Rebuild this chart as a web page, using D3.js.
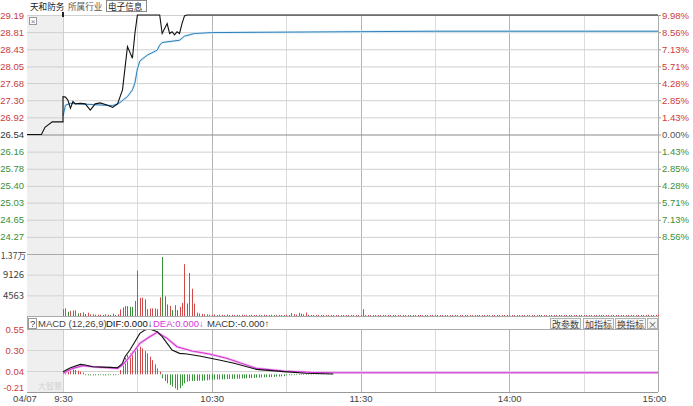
<!DOCTYPE html>
<html lang="zh">
<head>
<meta charset="UTF-8">
<title>天和防务 分时</title>
<script src="https://d3js.org/d3.v7.min.js"></script>
<style>
    html, body { margin:0; background:#fff; }
    svg text { font-family: "Liberation Sans", Arial, sans-serif; }
    .cjk { font-family: "Noto Sans CJK SC", sans-serif; }
    .axis .domain { display:none; }
</style>
</head>
<body>
<svg id="chart" width="693" height="406"></svg>
<script>
// ---- data ----
var prevClose = 26.54;
var priceTicks = [29.19, 28.81, 28.43, 28.05, 27.68, 27.30, 26.92, 26.54, 26.16, 25.78, 25.40, 25.03, 24.65, 24.27];
var pctLabels = ["9.98%", "8.56%", "7.13%", "5.71%", "4.28%", "2.85%", "1.43%", "0.00%", "1.43%", "2.85%", "4.28%", "5.71%", "7.13%", "8.56%"];
var volTicks = [13689, 9126, 4563];
var volLabels = ["1.37万", "9126", "4563"];
var macdTicks = [0.5466, 0.2933, 0.04, -0.2133];
var macdLabels = ["0.55", "0.30", "0.04", "-0.21"];
var timeTicks = ["09:30", "10:30", "11:30", "14:00", "15:00"];
var timeLabels = ["9:30", "10:30", "11:30", "14:00", "15:00"];

// call auction (grey band)
var aucTimes = ["09:15", "09:19", "09:20", "09:22", "09:25"];
var aucPrice = [26.54, 26.54, 26.70, 26.82, 26.82];

var priceTimes = ["09:30","09:31","09:32","09:33","09:34","09:35","09:37","09:39","09:41","09:43","09:45","09:48","09:50","09:52",
    "09:54","09:56","09:58","09:59","10:00","10:09","10:10","10:12","10:13","10:14","10:15","10:16","10:17","10:18","10:19","10:20","15:00"];
var priceVals = [27.38,27.37,27.30,27.12,27.27,27.22,27.23,27.22,27.08,27.22,27.24,27.19,27.14,27.22,
    27.53,28.49,28.23,28.78,29.19,29.19,28.78,29.00,28.78,28.82,28.75,28.82,28.78,29.00,29.17,29.19,29.19];

var avgTimes = ["09:30","09:31","09:33","09:50","09:52","09:53","09:56","09:58","09:59","10:00","10:01","10:04","10:08","10:09",
    "10:10","10:17","10:19","10:23","10:30","11:30","13:30","15:00"];
var avgVals = [26.95,27.19,27.23,27.18,27.22,27.25,27.38,27.53,27.68,27.99,28.17,28.30,28.41,28.52,
    28.58,28.63,28.72,28.78,28.80,28.82,28.83,28.83];

// volume per minute, 9:30 .. 15:00 (241 bars)
var volume = [
    1520,1670,940,1150,1240,1240,590,650,800,430,720,370,370,280,280,280,220,370,280,220,
    500,220,370,1450,1890,2170,2170,2020,2020,3320,10000,3980,4060,3690,1520,1670,1670,1670,1520,4130,
    13040,4350,2540,2240,1300,2390,1300,2020,2890,11450,2760,9500,6020,2760,720,550,480,370,370,
    300,260,350,220,300,260,200,330,240,280,200,260,220,300,180,240,200,260,220,180,240,200,300,220,180,
    260,200,240,180,220,200,260,180,
    650,430,300,700,520,380,760,
    260,200,220,180,240,160,200,180,220,160,200,180,160,200,150,180,160,200,150,180,160,220,
    1500,
    220,180,160,200,150,180,140,170,160,190,
    150,140,180,160,150,130,170,150,160,140,
    180,150,130,160,140,150,170,140,160,130,
    150,160,140,180,150,130,160,140,150,170,
    140,160,130,150,160,140,170,150,130,160,
    140,150,160,130,170,150,140,160,150,130,
    160,140,150,170,140,160,130,150,160,140,
    170,150,130,160,140,150,160,130,170,150,
    140,160,150,130,160,140,150,170,140,160,
    130,150,160,140,170,150,130,160,140,150,
    160,130,170,150,140,160,150,130,160,140,
    180,160,200,220,250,190,240,260,300
];
// minutes that traded down (green bars)
var volDown = [2,6,9,13,16,19,21,26,27,28,40,41,42,44,46,50,62,70,85,101,140,175,200];

// MACD histogram per minute from 9:30
var macdBars = [
    0.032,0.052,0.064,0.064,0.060,0.052,0.044,0.032,0.020,
    -0.010,-0.012,-0.012,-0.014,-0.012,-0.012,-0.010,-0.012,-0.014,-0.012,-0.010,-0.012,-0.010,-0.008,
    0.052,0.152,0.200,0.233,0.253,0.281,0.305,0.321,0.333,0.313,0.281,0.253,0.213,0.172,0.120,0.072,0.032,
    -0.048,-0.081,-0.109,-0.129,-0.149,-0.169,-0.189,-0.169,-0.137,-0.109,-0.089,-0.081,-0.081,-0.081,-0.080,-0.077,-0.077,-0.075,-0.073,
    -0.066,-0.065,-0.064,-0.063,-0.062,-0.061,-0.060,-0.058,-0.057,-0.056,-0.055,-0.053,-0.052,-0.050,-0.049,-0.047,
    -0.046,-0.044,-0.043,-0.041,-0.040,-0.038,-0.037,-0.035,-0.034,-0.032,-0.031,-0.029,-0.027,-0.025,-0.023,
    -0.012,-0.011,-0.010,-0.010,-0.009,-0.008,-0.008,-0.007,-0.007,-0.006,-0.006,-0.005,-0.005,-0.004,-0.004,-0.004,-0.003,-0.003,-0.003,-0.002
];

var difTimes = ["09:30","09:33","09:37","09:39","09:42","09:49","09:52","09:54","09:55","09:57","09:59","10:01","10:03","10:05",
    "10:08","10:10","10:12","10:14","10:17","10:20","10:25","10:33","10:39","10:48","10:59","11:08","11:19"];
var difVals = [0.032,0.080,0.120,0.112,0.092,0.084,0.080,0.133,0.212,0.293,0.393,0.494,0.534,0.546,
    0.514,0.454,0.374,0.293,0.253,0.245,0.220,0.172,0.133,0.060,0.032,0.012,0.004];

var deaTimes = ["09:30","09:34","09:38","09:42","09:52","09:54","09:57","10:01","10:05","10:08","10:12","10:16","10:22","10:29",
    "10:36","10:48","10:59","11:10","11:19","15:00"];
var deaVals = [0.012,0.072,0.104,0.092,0.072,0.112,0.212,0.374,0.454,0.507,0.434,0.333,0.281,0.245,
    0.193,0.072,0.040,0.024,0.018,0.018];

// ---- layout ----
var L = 27, X0 = 63, X1 = 658;
var pTop = 15, pBot = 254, vBot = 316, hBot = 329, mBot = 392;
var red = "#cc3b3b", green = "#3a8f3a";

function toMin(t) {
    var p = t.split(":"), v = +p[0] * 60 + +p[1];
    return v <= 690 ? v - 570 : v - 780 + 120;
}
function clock(t) { var p = t.split(":"); return +p[0] * 60 + +p[1]; }

var x = d3.scaleLinear().domain([0, 240]).range([X0, X1]);
var xAuc = d3.scaleLinear().domain([clock("09:15"), clock("09:25")]).range([L, X0]);
var priceY = d3.scaleLinear().domain([23.89, 29.19]).range([pBot, pTop]);
var volY = d3.scaleLinear().domain([0, 13689]).range([vBot, pBot]);
var macdY = d3.scaleLinear().domain([-0.2133, 0.5466]).range([mBot, hBot]);

var svg = d3.select("#chart");

// grey auction band
svg.append("rect").attr("x", L).attr("y", pTop).attr("width", X0 - L).attr("height", mBot - pTop).attr("fill", "#efefef");

// vertical grid
var vgrid = [30, 60, 90, 120, 150, 180, 210];
[[pTop, vBot], [hBot, mBot]].forEach(function (r) {
    svg.append("g").selectAll("line").data(vgrid).join("line")
        .attr("x1", function (d) { return Math.round(x(d)) + 0.5; })
        .attr("x2", function (d) { return Math.round(x(d)) + 0.5; })
        .attr("y1", r[0]).attr("y2", r[1])
        .attr("stroke", function (d) { return d % 60 === 0 ? "#b4b4b4" : "#dcdcdc"; });
});
svg.append("line").attr("x1", X0 + 0.5).attr("x2", X0 + 0.5).attr("y1", pTop).attr("y2", mBot).attr("stroke", "#d0d0d0");

// price axis (left) with gridlines
var pAxis = svg.append("g").attr("class", "axis").attr("transform", "translate(" + L + ",0)")
    .call(d3.axisLeft(priceY).tickValues(priceTicks).tickSize(-(X1 - L)).tickPadding(3).tickFormat(d3.format(".2f")));
pAxis.selectAll(".tick line").attr("stroke", function (d) { return d === prevClose ? "#8a8a8a" : "#cfcfcf"; });
pAxis.selectAll(".tick text").attr("font-size", 9.5)
    .attr("fill", function (d) { return d > prevClose ? red : d < prevClose ? green : "#333"; });

// percent axis (right)
var rAxis = svg.append("g").attr("class", "axis").attr("transform", "translate(" + X1 + ",0)")
    .call(d3.axisRight(priceY).tickValues(priceTicks).tickSize(3).tickPadding(1).tickFormat(function (d, i) { return pctLabels[i]; }));
rAxis.selectAll(".tick line").attr("stroke", "#999");
rAxis.selectAll(".tick text").attr("font-size", 9.5)
    .attr("fill", function (d) { return d > prevClose ? red : d < prevClose ? green : "#555"; });

// volume axis
var vAxis = svg.append("g").attr("class", "axis").attr("transform", "translate(" + L + ",0)")
    .call(d3.axisLeft(volY).tickValues(volTicks).tickSize(-(X1 - L)).tickPadding(1).tickFormat(function (d, i) { return volLabels[i]; }));
vAxis.selectAll(".tick line").attr("stroke", function (d, i) { return i === 0 ? "#aaa" : "#d4d4d4"; });
vAxis.selectAll(".tick text").attr("font-size", function (d, i) { return i === 0 ? 8.6 : 9.5; })
    .attr("fill", "#444").attr("class", "cjk")
    .attr("dx", function (d, i) { return i === 0 ? 0 : -2; })
    .attr("dy", function (d, i) { return i === 0 ? "0.5em" : "0.32em"; });
svg.append("line").attr("x1", L).attr("x2", X1).attr("y1", vBot + 0.5).attr("y2", vBot + 0.5).attr("stroke", "#aaa");

// macd axis
var mAxis = svg.append("g").attr("class", "axis").attr("transform", "translate(" + L + ",0)")
    .call(d3.axisLeft(macdY).tickValues(macdTicks).tickSize(-(X1 - L)).tickPadding(3).tickFormat(function (d, i) { return macdLabels[i]; }));
mAxis.selectAll(".tick line").attr("stroke", function (d, i) { return i === 3 ? "#999" : "#d4d4d4"; });
mAxis.selectAll(".tick text").attr("font-size", function (d, i) { return i === 3 ? 9 : 9.5; }).attr("fill", red)
    .attr("dy", function (d, i) { return i === 3 ? "-0.2em" : "0.32em"; });

// right border
svg.append("line").attr("x1", X1 + 0.5).attr("x2", X1 + 0.5).attr("y1", pTop).attr("y2", mBot).attr("stroke", "#aaa");

// time axis
var tAxis = svg.append("g").attr("class", "axis").attr("transform", "translate(0," + mBot + ")")
    .call(d3.axisBottom(x).tickValues(timeTicks.map(toMin)).tickSize(0).tickPadding(3).tickFormat(function (d, i) { return timeLabels[i]; }));
tAxis.selectAll(".tick text").attr("font-size", 9.5).attr("fill", "#444")
    .attr("dx", function (d, i) { return i === timeTicks.length - 1 ? -4 : 0; });
svg.append("text").attr("x", 25).attr("y", mBot + 3).attr("dy", "0.71em").attr("text-anchor", "middle")
    .attr("font-size", 9.5).attr("fill", "#444").text("04/07");

// ---- price lines ----
var aucLine = d3.line().x(function (d) { return xAuc(clock(d[0])); }).y(function (d) { return priceY(d[1]); });
var pLine = d3.line().x(function (d) { return x(toMin(d[0])); }).y(function (d) { return priceY(d[1]); });

var aucPts = aucTimes.map(function (t, i) { return [t, aucPrice[i]]; });
var pricePts = priceTimes.map(function (t, i) { return [t, priceVals[i]]; });
var avgPts = avgTimes.map(function (t, i) { return [t, avgVals[i]]; });

svg.append("path").attr("d", pLine(avgPts)).attr("fill", "none").attr("stroke", "#d8ecf8").attr("stroke-width", 2.4);
svg.append("path").attr("d", pLine(avgPts)).attr("fill", "none").attr("stroke", "#2f80b8").attr("stroke-width", 1);
svg.append("path").attr("d", aucLine(aucPts) + "L" + pLine(pricePts).slice(1))
    .attr("fill", "none").attr("stroke", "#111").attr("stroke-width", 1.1);
svg.append("rect").attr("x", x(0) - 1).attr("y", pTop - 3).attr("width", 2).attr("height", 5).attr("fill", "#222");

// ---- volume bars ----
svg.append("g").selectAll("line").data(volume).join("line")
    .attr("x1", function (d, i) { return Math.round(x(i)) + 0.5; })
    .attr("x2", function (d, i) { return Math.round(x(i)) + 0.5; })
    .attr("y1", volY(0))
    .attr("y2", function (d) { return Math.min(volY(0) - 1, volY(d)); })
    .attr("stroke", function (d, i) { return volDown.indexOf(i) >= 0 ? green : "#d04a4a"; });

// ---- MACD ----
svg.append("g").selectAll("line").data(macdBars).join("line")
    .attr("x1", function (d, i) { return Math.round(x(i)) + 0.5; })
    .attr("x2", function (d, i) { return Math.round(x(i)) + 0.5; })
    .attr("y1", macdY(0))
    .attr("y2", function (d) { return macdY(d); })
    .attr("stroke", function (d) { return d >= 0 ? "#d04a4a" : "#3a963a"; });

var mLine = d3.line().x(function (d) { return x(toMin(d[0])); }).y(function (d) { return macdY(d[1]); });
var deaPath = mLine(deaTimes.map(function (t, i) { return [t, deaVals[i]]; }));
svg.append("path").attr("d", deaPath).attr("fill", "none").attr("stroke", "#f2c4f2").attr("stroke-width", 2.6);
svg.append("path").attr("d", deaPath).attr("fill", "none").attr("stroke", "#d535d5").attr("stroke-width", 1.1);
svg.append("path").attr("d", mLine(difTimes.map(function (t, i) { return [t, difVals[i]]; })))
    .attr("fill", "none").attr("stroke", "#111").attr("stroke-width", 1.1);

// ---- MACD header bar ----
svg.append("rect").attr("x", L + 0.5).attr("y", vBot + 0.5).attr("width", X1 - L).attr("height", hBot - vBot)
    .attr("fill", "#fff").attr("stroke", "#aaa");
svg.append("rect").attr("x", 28.5).attr("y", 318.5).attr("width", 8).attr("height", 10).attr("fill", "#fff").attr("stroke", "#999");
var hdr = [
    { t: "?", x: 30, c: "#333" },
    { t: "MACD (12,26,9)", x: 38, c: "#444" },
    { t: "DIF:0.000↓", x: 106, c: "#111" },
    { t: "DEA:0.000↓", x: 153, c: "#d535d5" },
    { t: "MACD:-0.000↑", x: 207, c: "#333" }
];
svg.append("g").selectAll("text").data(hdr).join("text")
    .attr("x", function (d) { return d.x; }).attr("y", 327).attr("font-size", 9.5)
    .attr("fill", function (d) { return d.c; }).text(function (d) { return d.t; });

var btns = [{ t: "改参数", x: 550, w: 30 }, { t: "加指标", x: 583, w: 30 }, { t: "换指标", x: 615, w: 30 }, { t: "×", x: 647, w: 10 }];
var bg = svg.append("g").selectAll("g").data(btns).join("g");
bg.append("rect").attr("x", function (d) { return d.x + 0.5; }).attr("y", 318.5).attr("width", function (d) { return d.w; })
    .attr("height", 10).attr("fill", "#f6f6f6").attr("stroke", "#b0b0b0");
bg.append("text").attr("class", "cjk").attr("x", function (d) { return d.x + d.w / 2 + 0.5; }).attr("y", 327.5)
    .attr("text-anchor", "middle").attr("font-size", 9).attr("fill", "#444").text(function (d) { return d.t; });

// ---- top title row ----
var title = [{ t: "天和防务", x: 30, c: "#222" }, { t: "所属行业", x: 68, c: "#555" }, { t: "电子信息", x: 108, c: "#222" }];
svg.append("g").selectAll("text").data(title).join("text").attr("class", "cjk")
    .attr("x", function (d) { return d.x; }).attr("y", 10).attr("font-size", 8.6)
    .attr("fill", function (d) { return d.c; }).text(function (d) { return d.t; });
svg.append("rect").attr("x", 106.5).attr("y", 0.5).attr("width", 40).attr("height", 11).attr("fill", "none").attr("stroke", "#888");

// small close box in the band
svg.append("rect").attr("x", 29.5).attr("y", 17.5).attr("width", 7).attr("height", 7).attr("fill", "#fff").attr("stroke", "#999");
svg.append("text").attr("x", 33).attr("y", 24).attr("text-anchor", "middle").attr("font-size", 8).attr("fill", "#777").text("×");

// faint watermark
svg.append("text").attr("class", "cjk").attr("x", 38).attr("y", 389).attr("font-size", 8)
    .attr("fill", "#c8c8c8").attr("opacity", 0.7).text("大智慧");
</script>
</body>
</html>
